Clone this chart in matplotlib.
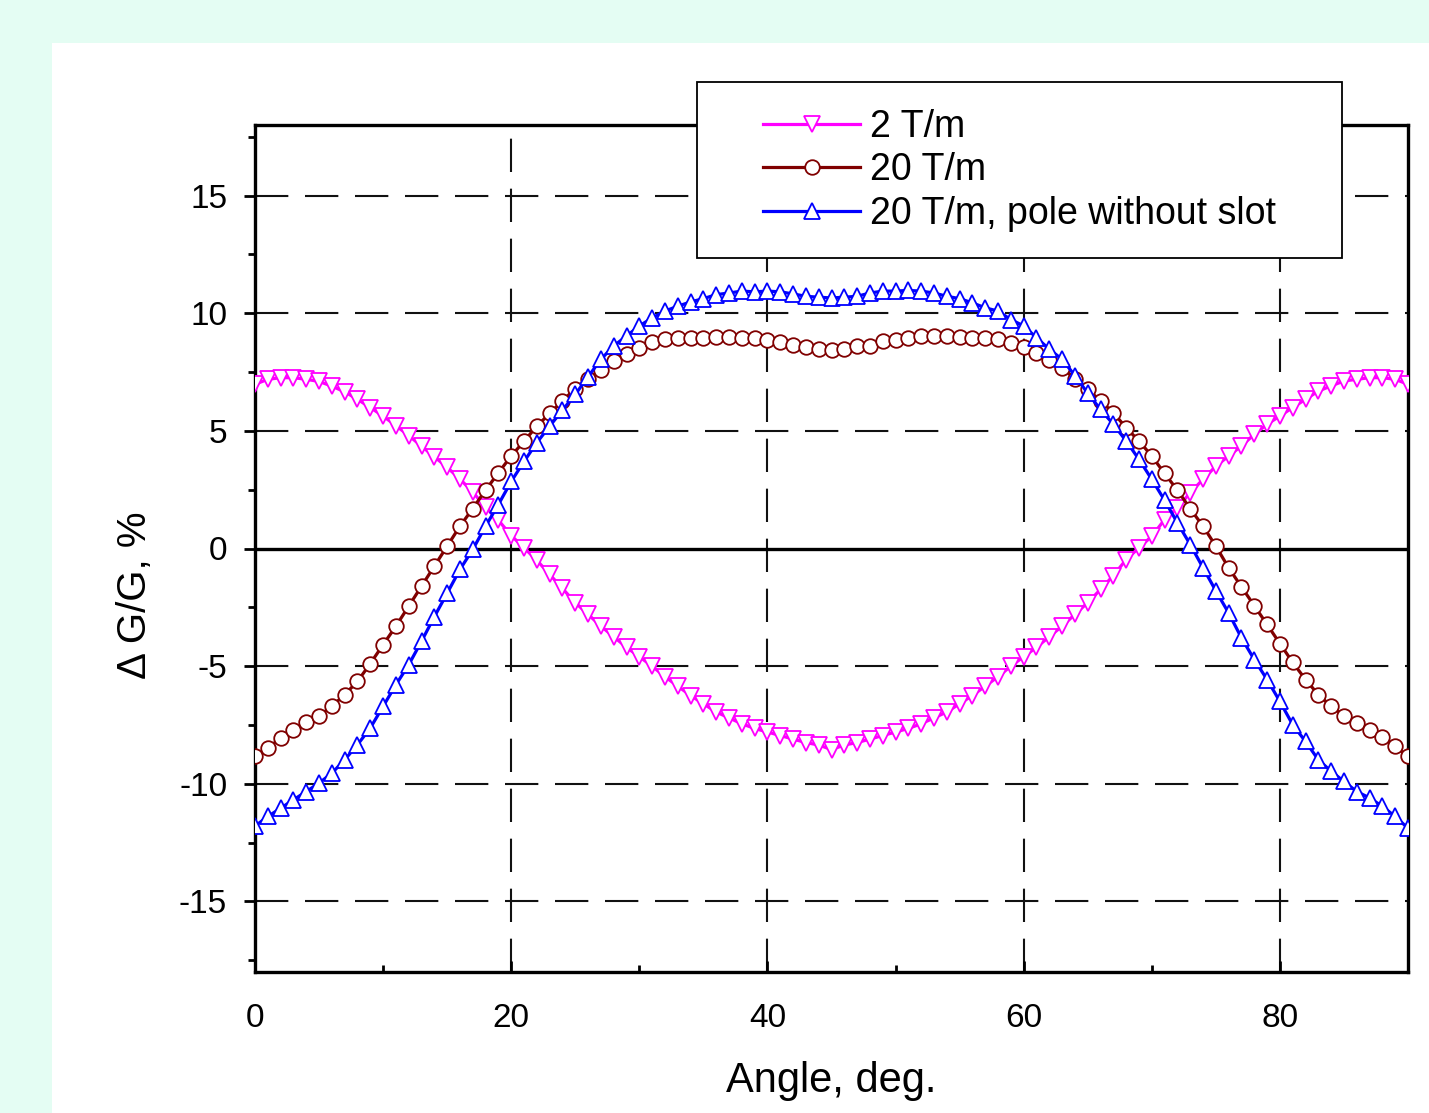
import matplotlib
matplotlib.use("Agg")
import matplotlib.pyplot as plt
from matplotlib.patches import Rectangle

plt.rcParams["font.family"] = ["Liberation Sans", "DejaVu Sans"]
plt.rcParams["axes.unicode_minus"] = False

angle = list(range(0, 91))

grad_2 = [
    6.98, 7.19, 7.26, 7.26, 7.19, 7.10, 6.90, 6.66, 6.34, 5.99,
    5.63, 5.22, 4.80, 4.35, 3.90, 3.45, 2.95, 2.40, 1.75, 1.20,
    0.55, 0.03, -0.50, -1.10, -1.70, -2.30, -2.80, -3.30, -3.75, -4.20,
    -4.60, -5.00, -5.45, -5.85, -6.25, -6.60, -6.95, -7.20, -7.45, -7.65,
    -7.80, -7.95, -8.10, -8.25, -8.35, -8.55, -8.35, -8.25, -8.10, -7.95,
    -7.80, -7.65, -7.45, -7.20, -6.95, -6.60, -6.25, -5.85, -5.45, -5.00,
    -4.60, -4.20, -3.75, -3.30, -2.80, -2.30, -1.74, -1.15, -0.47, 0.03,
    0.52, 1.23, 1.73, 2.37, 2.94, 3.50, 3.93, 4.36, 4.85, 5.28,
    5.63, 5.99, 6.34, 6.69, 6.91, 7.12, 7.19, 7.26, 7.26, 7.19,
    6.98,
]

grad_20 = [
    -8.84, -8.48, -8.06, -7.70, -7.39, -7.11, -6.71, -6.21, -5.65, -4.89,
    -4.09, -3.30, -2.45, -1.60, -0.75, 0.10, 0.95, 1.70, 2.48, 3.22,
    3.93, 4.56, 5.20, 5.74, 6.27, 6.80, 7.22, 7.60, 7.97, 8.26,
    8.54, 8.78, 8.89, 8.96, 8.94, 8.96, 8.99, 9.00, 8.96, 8.94,
    8.87, 8.78, 8.64, 8.58, 8.47, 8.43, 8.50, 8.60, 8.60, 8.80,
    8.87, 8.96, 9.03, 9.03, 9.03, 9.00, 8.96, 8.94, 8.90, 8.75,
    8.58, 8.30, 8.01, 7.68, 7.22, 6.77, 6.27, 5.77, 5.13, 4.57,
    3.93, 3.19, 2.48, 1.69, 0.95, 0.10, -0.82, -1.63, -2.43, -3.23,
    -4.04, -4.84, -5.57, -6.21, -6.71, -7.10, -7.42, -7.73, -8.01, -8.41,
    -8.84,
]

grad_20_noslot = [
    -11.80, -11.39, -11.04, -10.68, -10.33, -9.97, -9.55, -8.98, -8.34, -7.63,
    -6.71, -5.79, -4.94, -3.94, -2.90, -1.90, -0.89, -0.04, 0.95, 1.87,
    2.85, 3.70, 4.50, 5.20, 5.88, 6.55, 7.30, 8.04, 8.61, 9.03,
    9.46, 9.80, 10.09, 10.30, 10.48, 10.62, 10.79, 10.86, 10.94, 10.91,
    10.94, 10.91, 10.82, 10.72, 10.68, 10.65, 10.68, 10.72, 10.86, 10.94,
    10.94, 10.97, 10.94, 10.86, 10.72, 10.62, 10.44, 10.23, 10.09, 9.73,
    9.46, 8.96, 8.47, 8.04, 7.35, 6.60, 5.91, 5.28, 4.57, 3.79,
    2.94, 2.05, 1.09, 0.17, -0.82, -1.80, -2.74, -3.80, -4.72, -5.57,
    -6.50, -7.49, -8.20, -8.98, -9.47, -9.90, -10.33, -10.60, -10.96, -11.39,
    -11.89,
]

series = [
    ("2 T/m", grad_2, "#ff00ff", "v", 12),
    ("20 T/m", grad_20, "#800000", "o", 10.5),
    ("20 T/m, pole without slot", grad_20_noslot, "#0000ff", "^", 12),
]

fig = plt.figure(figsize=(14.29, 11.13), dpi=100, facecolor="#e4fdf3")
fig.patches.append(Rectangle((52 / 1429, 0), 1, (1113 - 43) / 1113, transform=fig.transFigure,
                             facecolor="white", edgecolor="none", zorder=-5))
ax = fig.add_axes([255 / 1429, 141 / 1113, 1153 / 1429, 847 / 1113])
ax.set_facecolor("white")

dash = (0, (16, 8))
for gx in [20, 40, 60, 80]:
    ax.axvline(gx, color="#111111", lw=1.5, ls=dash, zorder=1)
for gy in [-15, -10, -5, 5, 10, 15]:
    ax.axhline(gy, color="#111111", lw=1.5, ls=dash, zorder=1)
ax.axhline(0, color="black", lw=2.4, zorder=1)

for label, values, color, marker, ms in series:
    ax.plot(angle, values, color=color, lw=2.3, marker=marker, ms=ms,
            markerfacecolor="white", markeredgecolor=color, markeredgewidth=1.3,
            label=label, zorder=3)

ax.set_xlim(0, 90)
ax.set_ylim(-18, 18)
ax.set_xticks([0, 20, 40, 60, 80])
ax.set_xticks([10, 30, 50, 70, 90], minor=True)
ax.set_yticks([-15, -10, -5, 0, 5, 10, 15])
ax.set_yticks([-17.5, -12.5, -7.5, -2.5, 2.5, 7.5, 12.5, 17.5], minor=True)
ax.tick_params(axis="y", which="major", direction="out", length=8, width=2, pad=12, labelsize=24)
ax.tick_params(axis="y", which="minor", direction="out", length=5, width=2)
ax.tick_params(axis="x", which="major", direction="in", length=8, width=2, pad=22, labelsize=24)
ax.tick_params(axis="x", which="minor", direction="in", length=5, width=2)
for side in ["left", "right", "top", "bottom"]:
    ax.spines[side].set_linewidth(2.4)

ax.set_xlabel("Angle, deg.", fontsize=30, labelpad=20)
ax.set_ylabel("Δ G/G, %", fontsize=29, va="center")
ax.yaxis.set_label_coords(-0.104, 0.445)

box = Rectangle(((697 - 255) / 1153, (972 - 258) / 847), (1342 - 697) / 1153, (258 - 82) / 847,
                transform=ax.transAxes, facecolor="white", edgecolor="black", lw=1.3,
                clip_on=False, zorder=10)
ax.add_patch(box)
leg = ax.legend(loc="upper left", bbox_to_anchor=((744 - 255) / 1153, (972 - 90) / 847),
                frameon=False, fontsize=27, borderpad=0, handlelength=2.6,
                handletextpad=0.25, labelspacing=0.2)
leg.set_zorder(11)

fig.savefig("out.png", dpi=100, facecolor=fig.get_facecolor())
plt.close(fig)
